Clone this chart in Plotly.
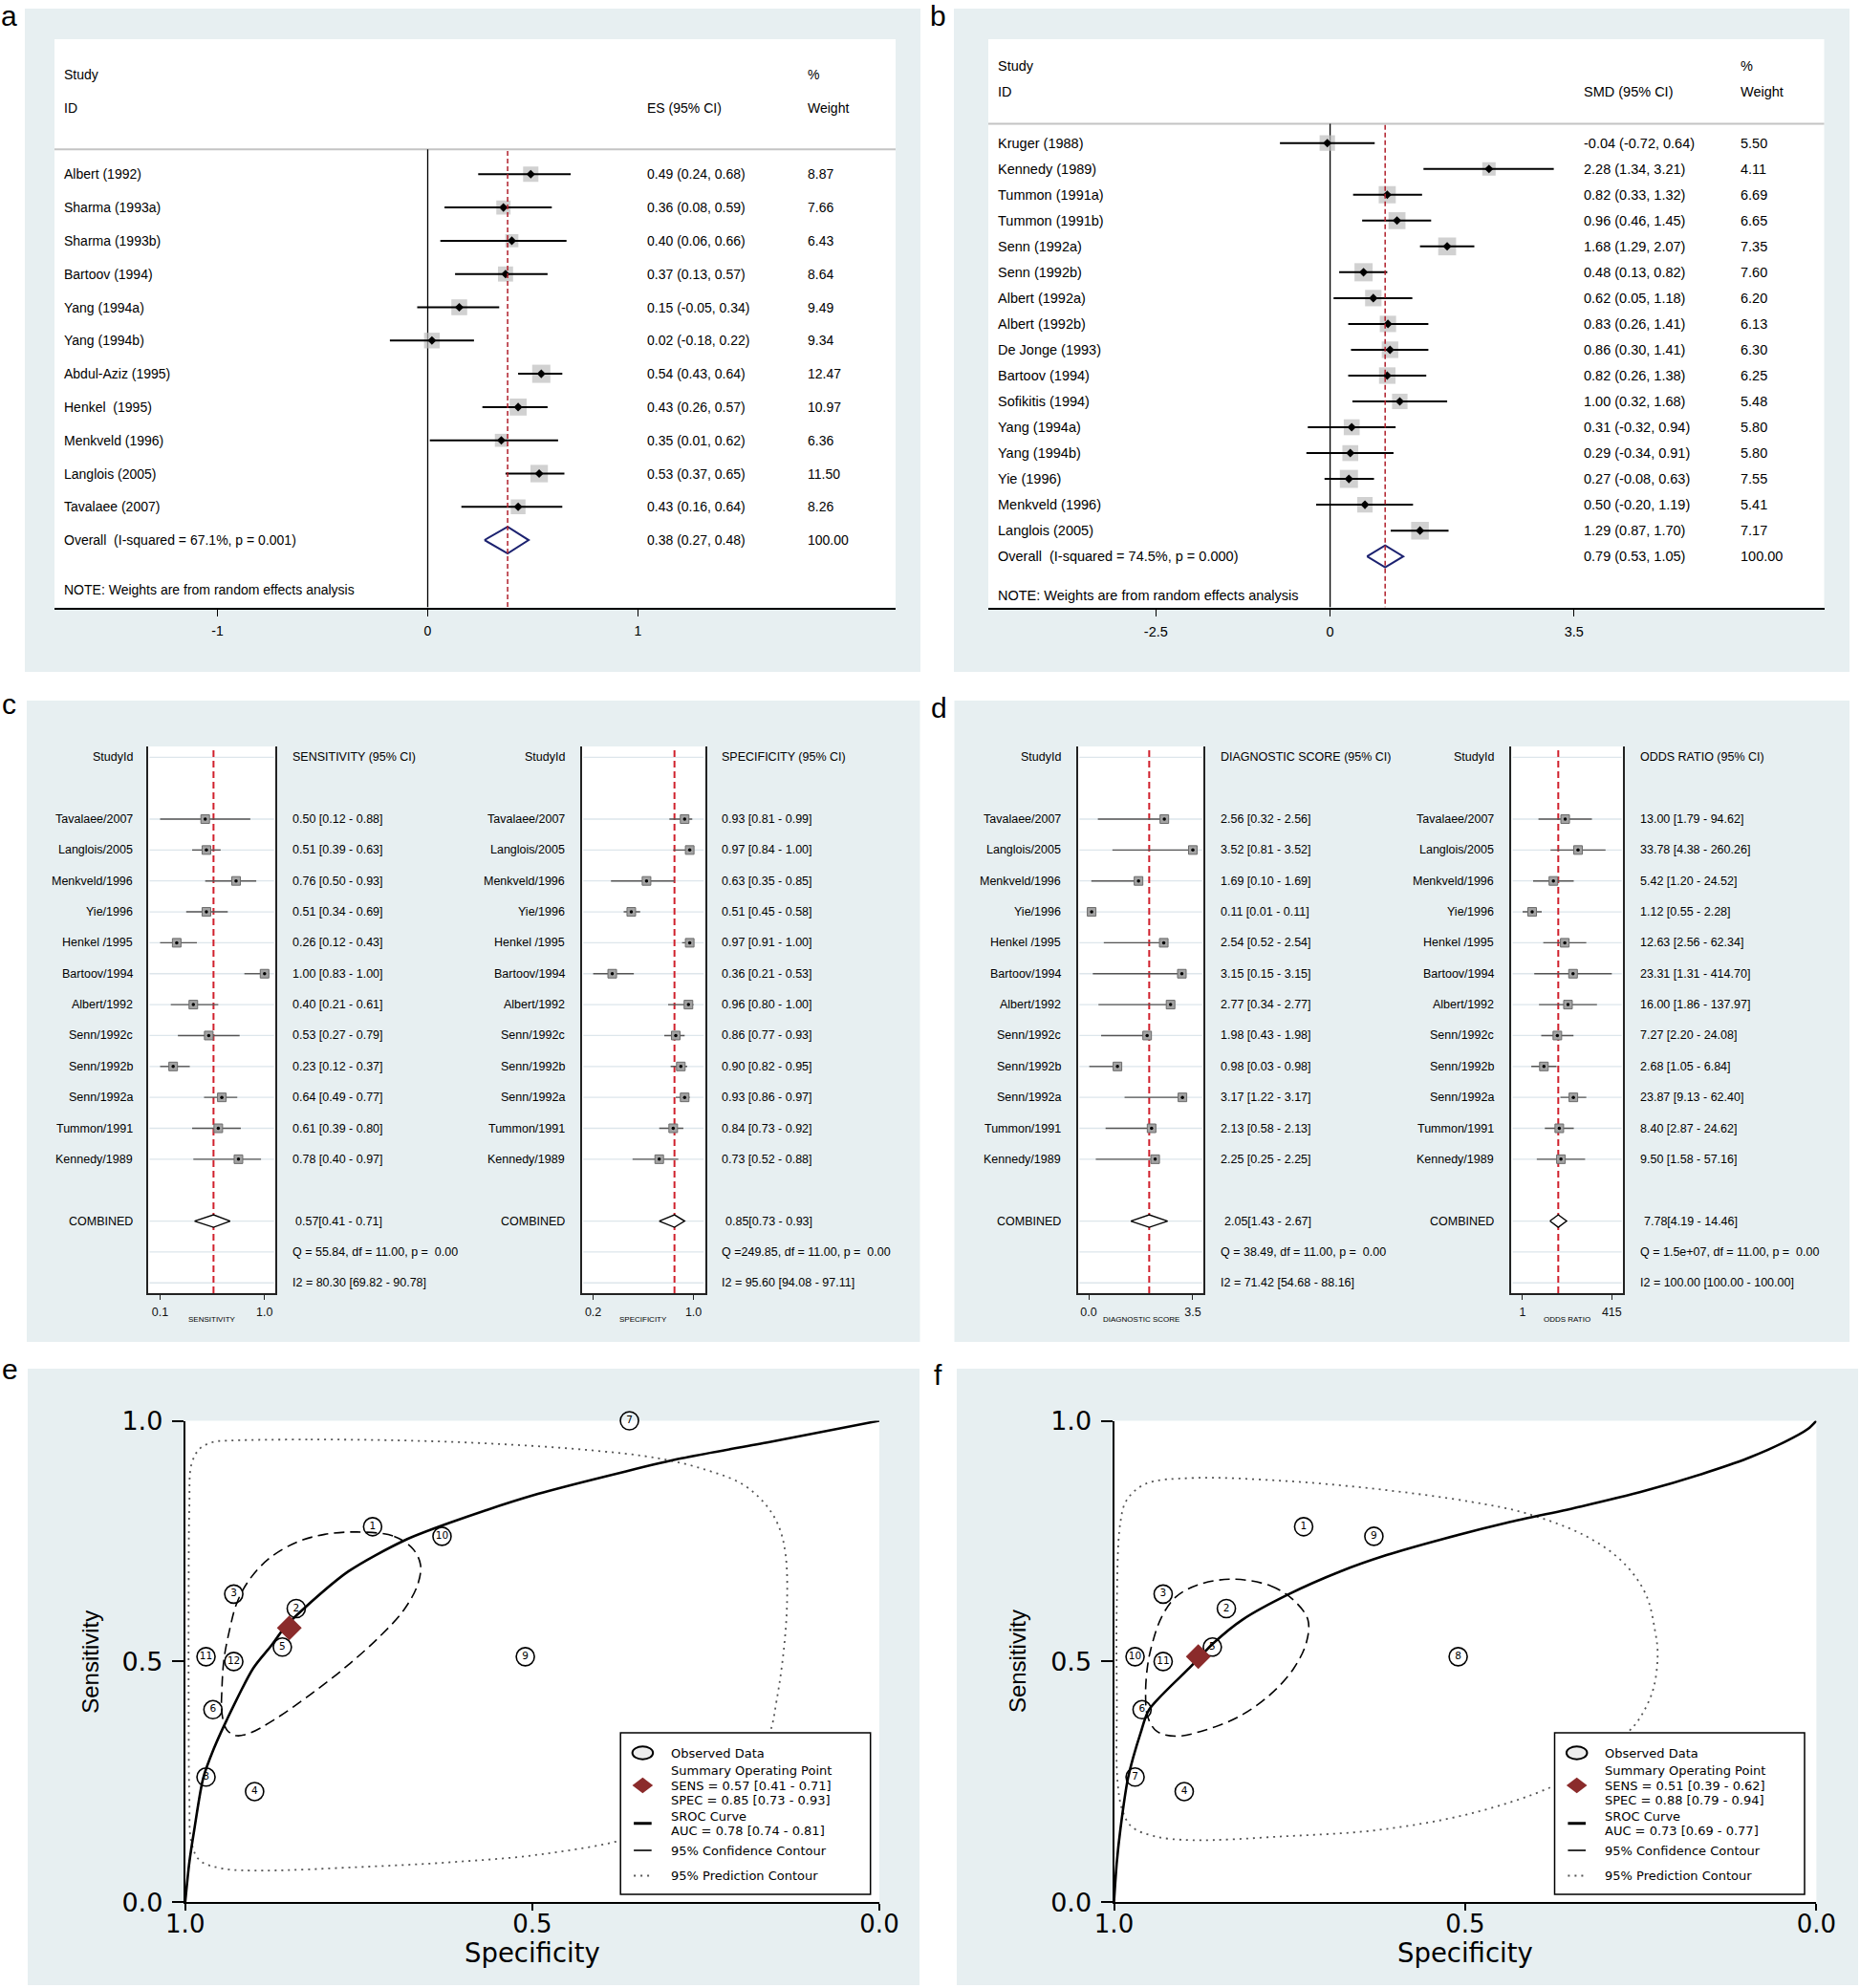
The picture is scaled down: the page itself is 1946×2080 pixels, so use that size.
import numpy as np
import plotly.graph_objects as go

W, H = 1946, 2080
FONT = "Liberation Sans, Arial, Helvetica, sans-serif"
WIDE = "DejaVu Sans, Verdana, sans-serif"
BG = "#E7EFF1"

# ---------------- DATA ----------------
# panel a
a_names = ["Albert (1992)", "Sharma (1993a)", "Sharma (1993b)", "Bartoov (1994)", "Yang (1994a)",
           "Yang (1994b)", "Abdul-Aziz (1995)", "Henkel  (1995)", "Menkveld (1996)", "Langlois (2005)",
           "Tavalaee (2007)"]
a_es = [0.49, 0.36, 0.40, 0.37, 0.15, 0.02, 0.54, 0.43, 0.35, 0.53, 0.43]
a_lo = [0.24, 0.08, 0.06, 0.13, -0.05, -0.18, 0.43, 0.26, 0.01, 0.37, 0.16]
a_hi = [0.68, 0.59, 0.66, 0.57, 0.34, 0.22, 0.64, 0.57, 0.62, 0.65, 0.64]
a_w = [8.87, 7.66, 6.43, 8.64, 9.49, 9.34, 12.47, 10.97, 6.36, 11.50, 8.26]
a_overall = [0.38, 0.27, 0.48]
a_overall_weight = 100.00
a_overall_label = "Overall  (I-squared = 67.1%, p = 0.001)"
a_ticks = [-1, 0, 1]
a_ticktext = ["-1", "0", "1"]

# panel b
b_names = ["Kruger (1988)", "Kennedy (1989)", "Tummon (1991a)", "Tummon (1991b)", "Senn (1992a)",
           "Senn (1992b)", "Albert (1992a)", "Albert (1992b)", "De Jonge (1993)", "Bartoov (1994)",
           "Sofikitis (1994)", "Yang (1994a)", "Yang (1994b)", "Yie (1996)", "Menkveld (1996)",
           "Langlois (2005)"]
b_smd = [-0.04, 2.28, 0.82, 0.96, 1.68, 0.48, 0.62, 0.83, 0.86, 0.82, 1.00, 0.31, 0.29, 0.27, 0.50, 1.29]
b_lo = [-0.72, 1.34, 0.33, 0.46, 1.29, 0.13, 0.05, 0.26, 0.30, 0.26, 0.32, -0.32, -0.34, -0.08, -0.20, 0.87]
b_hi = [0.64, 3.21, 1.32, 1.45, 2.07, 0.82, 1.18, 1.41, 1.41, 1.38, 1.68, 0.94, 0.91, 0.63, 1.19, 1.70]
b_w = [5.50, 4.11, 6.69, 6.65, 7.35, 7.60, 6.20, 6.13, 6.30, 6.25, 5.48, 5.80, 5.80, 7.55, 5.41, 7.17]
b_overall = [0.79, 0.53, 1.05]
b_overall_weight = 100.00
b_overall_label = "Overall  (I-squared = 74.5%, p = 0.000)"
b_ticks = [-2.5, 0, 3.5]
b_ticktext = ["-2.5", "0", "3.5"]

# panels c, d (same study order)
cd_ids = ["Tavalaee/2007", "Langlois/2005", "Menkveld/1996", "Yie/1996", "Henkel /1995", "Bartoov/1994",
          "Albert/1992", "Senn/1992c", "Senn/1992b", "Senn/1992a", "Tummon/1991", "Kennedy/1989"]
sens = [0.50, 0.51, 0.76, 0.51, 0.26, 1.00, 0.40, 0.53, 0.23, 0.64, 0.61, 0.78]
sens_lo = [0.12, 0.39, 0.50, 0.34, 0.12, 0.83, 0.21, 0.27, 0.12, 0.49, 0.39, 0.40]
sens_hi = [0.88, 0.63, 0.93, 0.69, 0.43, 1.00, 0.61, 0.79, 0.37, 0.77, 0.80, 0.97]
spec = [0.93, 0.97, 0.63, 0.51, 0.97, 0.36, 0.96, 0.86, 0.90, 0.93, 0.84, 0.73]
spec_lo = [0.81, 0.84, 0.35, 0.45, 0.91, 0.21, 0.80, 0.77, 0.82, 0.86, 0.73, 0.52]
spec_hi = [0.99, 1.00, 0.85, 0.58, 1.00, 0.53, 1.00, 0.93, 0.95, 0.97, 0.92, 0.88]
dscore = [2.56, 3.52, 1.69, 0.11, 2.54, 3.15, 2.77, 1.98, 0.98, 3.17, 2.13, 2.25]
dscore_lo = [0.32, 0.81, 0.10, 0.01, 0.52, 0.15, 0.34, 0.43, 0.03, 1.22, 0.58, 0.25]
dscore_hi = [2.56, 3.52, 1.69, 0.11, 2.54, 3.15, 2.77, 1.98, 0.98, 3.17, 2.13, 2.25]
odds = [13.00, 33.78, 5.42, 1.12, 12.63, 23.31, 16.00, 7.27, 2.68, 23.87, 8.40, 9.50]
odds_lo = [1.79, 4.38, 1.20, 0.55, 2.56, 1.31, 1.86, 2.20, 1.05, 9.13, 2.87, 1.58]
odds_hi = [94.62, 260.26, 24.52, 2.28, 62.34, 414.70, 137.97, 24.08, 6.84, 62.40, 24.62, 57.16]
sens_comb = [0.57, 0.41, 0.71]
spec_comb = [0.85, 0.73, 0.93]
dscore_comb = [2.05, 1.43, 2.67]
odds_comb = [7.78, 4.19, 14.46]
sens_stats = ["Q = 55.84, df = 11.00, p =  0.00", "I2 = 80.30 [69.82 - 90.78]"]
spec_stats = ["Q =249.85, df = 11.00, p =  0.00", "I2 = 95.60 [94.08 - 97.11]"]
dscore_stats = ["Q = 38.49, df = 11.00, p =  0.00", "I2 = 71.42 [54.68 - 88.16]"]
odds_stats = ["Q = 1.5e+07, df = 11.00, p =  0.00", "I2 = 100.00 [100.00 - 100.00]"]
sens_ticktext = ["0.1", "1.0"]
spec_ticktext = ["0.2", "1.0"]
dscore_ticktext = ["0.0", "3.5"]
odds_ticktext = ["1", "415"]

# panel e (all 12 studies), panel f (Bartoov excluded)
e_summary = [0.85, 0.57]
f_summary = [0.88, 0.51]
e_legend = ["Summary Operating Point", "SENS = 0.57 [0.41 - 0.71]", "SPEC = 0.85 [0.73 - 0.93]",
            "SROC Curve", "AUC = 0.78 [0.74 - 0.81]"]
f_legend = ["Summary Operating Point", "SENS = 0.51 [0.39 - 0.62]", "SPEC = 0.88 [0.79 - 0.94]",
            "SROC Curve", "AUC = 0.73 [0.69 - 0.77]"]
sroc_ticks = [0, 0.5, 1]
sroc_ticktext = ["0.0", "0.5", "1.0"]

sroc_e_spec = [1.0, 0.994, 0.987, 0.974, 0.959, 0.940, 0.902, 0.876, 0.856, 0.829, 0.765, 0.685, 0.619,
               0.492, 0.365, 0.285, 0.158, 0.0]
sroc_e_sens = [0.0, 0.083, 0.150, 0.258, 0.318, 0.379, 0.486, 0.533, 0.572, 0.610, 0.687, 0.751, 0.788,
               0.848, 0.895, 0.922, 0.956, 1.0]
conf_e_spec = [0.752, 0.699, 0.672, 0.661, 0.665, 0.685, 0.719, 0.765, 0.819, 0.872, 0.906, 0.926, 0.940,
               0.947, 0.947, 0.944, 0.936, 0.926, 0.909, 0.879, 0.839, 0.799, 0.752]
conf_e_sens = [0.769, 0.760, 0.734, 0.701, 0.660, 0.607, 0.553, 0.493, 0.432, 0.379, 0.352, 0.346, 0.358,
               0.392, 0.446, 0.506, 0.566, 0.620, 0.667, 0.714, 0.748, 0.764, 0.769]
pred_e_spec = [0.932, 0.819, 0.685, 0.552, 0.418, 0.318, 0.252, 0.198, 0.165, 0.145, 0.135, 0.133, 0.138,
               0.148, 0.158, 0.185, 0.252, 0.352, 0.485, 0.619, 0.752, 0.886, 0.946, 0.979, 0.991, 0.994,
               0.995, 0.995, 0.994, 0.991, 0.979, 0.959, 0.932]
pred_e_sens = [0.959, 0.961, 0.959, 0.952, 0.939, 0.922, 0.899, 0.869, 0.828, 0.781, 0.721, 0.620, 0.520,
               0.419, 0.352, 0.285, 0.204, 0.137, 0.100, 0.083, 0.073, 0.066, 0.070, 0.087, 0.124, 0.217,
               0.419, 0.620, 0.822, 0.909, 0.942, 0.956, 0.959]
sroc_f_spec = [1.0, 0.996, 0.991, 0.980, 0.962, 0.950, 0.893, 0.879, 0.860, 0.817, 0.751, 0.678, 0.612,
               0.533, 0.441, 0.335, 0.243, 0.164, 0.098, 0.045, 0.012, 0.0]
sroc_f_sens = [0.0, 0.083, 0.150, 0.258, 0.352, 0.400, 0.486, 0.507, 0.536, 0.587, 0.640, 0.687, 0.721,
               0.754, 0.788, 0.822, 0.855, 0.889, 0.922, 0.956, 0.983, 1.0]
conf_f_spec = [0.830, 0.777, 0.744, 0.724, 0.726, 0.744, 0.777, 0.823, 0.876, 0.912, 0.939, 0.952, 0.955,
               0.952, 0.945, 0.932, 0.912, 0.879, 0.830]
conf_f_sens = [0.671, 0.657, 0.627, 0.587, 0.540, 0.486, 0.432, 0.385, 0.355, 0.345, 0.355, 0.385, 0.432,
               0.493, 0.540, 0.593, 0.634, 0.660, 0.671]
pred_f_spec = [0.955, 0.889, 0.757, 0.625, 0.493, 0.414, 0.329, 0.276, 0.243, 0.230, 0.226, 0.233, 0.253,
               0.269, 0.309, 0.375, 0.493, 0.625, 0.757, 0.889, 0.942, 0.975, 0.988, 0.995, 0.996, 0.996,
               0.991, 0.982, 0.955]
pred_f_sens = [0.869, 0.881, 0.875, 0.858, 0.832, 0.808, 0.761, 0.707, 0.640, 0.566, 0.513, 0.439, 0.379,
               0.352, 0.298, 0.241, 0.184, 0.150, 0.137, 0.129, 0.137, 0.157, 0.191, 0.251, 0.419, 0.620,
               0.788, 0.835, 0.869]

# ---------------- helpers ----------------
def px(x):
    return x / W


def py(y):
    return 1 - y / H


fig = go.Figure()
shapes, annotations, axes = [], [], {}


def refs(i):
    return ("x", "y") if i == 1 else (f"x{i}", f"y{i}")


def add_axes(i, dom_x, dom_y, xcfg, ycfg):
    xr, yr = refs(i)
    xk = "xaxis" if i == 1 else f"xaxis{i}"
    yk = "yaxis" if i == 1 else f"yaxis{i}"
    xa = dict(domain=[px(dom_x[0]), px(dom_x[1])], anchor=yr, showgrid=False, zeroline=False,
              automargin=False, fixedrange=True)
    xa.update(xcfg)
    ya = dict(domain=[py(dom_y[1]), py(dom_y[0])], anchor=xr, showgrid=False, zeroline=False,
              automargin=False, fixedrange=True)
    ya.update(ycfg)
    axes[xk] = xa
    axes[yk] = ya


def rect(x0, y0, x1, y1, fill, layer="below", lc=None, lw=0):
    shapes.append(dict(type="rect", xref="paper", yref="paper", x0=px(x0), x1=px(x1), y0=py(y1), y1=py(y0),
                       fillcolor=fill, line=dict(width=lw, color=lc or fill), layer=layer))


def ann(x, y, text, size, yref="paper", xanchor="left", yanchor="middle", family=FONT, color="black", angle=0):
    annotations.append(dict(x=px(x), xref="paper", y=(py(y) if yref == "paper" else y), yref=yref,
                            text=text, showarrow=False, xanchor=xanchor, yanchor=yanchor,
                            font=dict(size=size, family=family, color=color), textangle=angle,
                            borderpad=0, borderwidth=0))


def ci_xy(rows, lo, hi):
    xs, ys = [], []
    for r, l, h in zip(rows, lo, hi):
        xs += [l, h, None]
        ys += [r, r, None]
    return xs, ys


# ---------------- backgrounds ----------------
panels_bg = [(26, 9, 963, 703), (998, 9, 1935, 703), (28, 733, 962.5, 1404), (998.5, 733, 1935, 1404),
             (29, 1432, 962, 2077), (1001, 1432, 1944, 2077)]
for b in panels_bg:
    rect(*b, BG)

# panel letters
for (lx, ly, s, anc) in [(9, 0, "a", "top"), (981, 0, "b", "top"), (9, 737, "c", "middle"),
                         (982, 740, "d", "middle"), (10, 1432, "e", "middle"), (981, 1438, "f", "middle")]:
    ann(lx, ly, s, 30, xanchor="center", yanchor=anc)


# ---------------- big forest plots (a, b) ----------------
def big_forest(i, names, es, lo, hi, w, ov, ov_w, ov_label, est_hdr, dom_x, dom_y, zero_px, ppu, r1_px, step,
               cols, tickvals, ticktext, fsize, dia_half_px):
    xr, yr = refs(i)
    rect(dom_x[0], dom_y[0], dom_x[1], dom_y[1], "white")
    xrange = [(dom_x[0] - zero_px) / ppu, (dom_x[1] - zero_px) / ppu]

    def rowp(p):
        return 1 + (p - r1_px) / step

    r_bot, r_top = rowp(dom_y[1]), rowp(dom_y[0])
    add_axes(i, dom_x, dom_y,
             dict(range=xrange, showline=True, linecolor="black", linewidth=1.5, ticks="outside", ticklen=8,
                  tickwidth=1.3, tickcolor="black", tickvals=tickvals, ticktext=ticktext,
                  tickfont=dict(size=fsize, family=FONT, color="black"), ticklabelstandoff=3),
             dict(range=[r_bot, r_top], visible=False))
    n = len(names)
    rows = list(range(1, n + 1))
    # reference lines
    shapes.append(dict(type="line", xref=f"{xr} domain", yref=yr, x0=0, x1=1, y0=0.25, y1=0.25,
                       line=dict(color="#C4C4C4", width=2), layer="below"))
    shapes.append(dict(type="line", xref=xr, yref=yr, x0=0, x1=0, y0=0.25, y1=r_bot,
                       line=dict(color="black", width=1.3), layer="below"))
    shapes.append(dict(type="line", xref=xr, yref=yr, x0=ov[0], x1=ov[0], y0=0.3, y1=r_bot,
                       line=dict(color="#B01E2A", width=1.5, dash="5px,3px"), layer="above"))
    wmax = max(w)
    fig.add_trace(go.Scatter(x=es, y=rows, mode="markers", xaxis=xr, yaxis=yr,
                             marker=dict(symbol="square", size=[19 * np.sqrt(v / wmax) for v in w],
                                         color="#BEBEBE", line=dict(width=0)), hoverinfo="skip"))
    cx, cy = ci_xy(rows, lo, hi)
    fig.add_trace(go.Scatter(x=cx, y=cy, mode="lines", xaxis=xr, yaxis=yr,
                             line=dict(color="black", width=2), hoverinfo="skip"))
    fig.add_trace(go.Scatter(x=es, y=rows, mode="markers", xaxis=xr, yaxis=yr,
                             marker=dict(symbol="diamond", size=7, color="black"), hoverinfo="skip"))
    R = n + 1
    hh = dia_half_px / step
    fig.add_trace(go.Scatter(x=[ov[1], ov[0], ov[2], ov[0], ov[1]], y=[R, R - hh, R, R + hh, R],
                             mode="lines", xaxis=xr, yaxis=yr, line=dict(color="#1C2270", width=2),
                             hoverinfo="skip"))
    c_name, c_est, c_w = cols
    ann(c_name, -2, "Study", fsize, yref=yr)
    ann(c_name, -1, "ID", fsize, yref=yr)
    ann(c_est, -1, est_hdr, fsize, yref=yr)
    ann(c_w, -2, "%", fsize, yref=yr)
    ann(c_w, -1, "Weight", fsize, yref=yr)
    for r, nm, e, l, h, wt in zip(rows, names, es, lo, hi, w):
        ann(c_name, r, nm, fsize, yref=yr)
        ann(c_est, r, f"{e:.2f} ({l:.2f}, {h:.2f})", fsize, yref=yr)
        ann(c_w, r, f"{wt:.2f}", fsize, yref=yr)
    ann(c_name, R, ov_label, fsize, yref=yr)
    ann(c_est, R, f"{ov[0]:.2f} ({ov[1]:.2f}, {ov[2]:.2f})", fsize, yref=yr)
    ann(c_w, R, f"{ov_w:.2f}", fsize, yref=yr)
    ann(c_name, R + 1.5, "NOTE: Weights are from random effects analysis", fsize, yref=yr)


big_forest(1, a_names, a_es, a_lo, a_hi, a_w, a_overall, a_overall_weight, a_overall_label, "ES (95% CI)",
           (57, 937), (41, 635.5), 447.5, 220.0, 182.3, 34.8, (67, 677, 844.5), a_ticks, a_ticktext, 14, 14)
big_forest(2, b_names, b_smd, b_lo, b_hi, b_w, b_overall, b_overall_weight, b_overall_label, "SMD (95% CI)",
           (1034, 1908.5), (41, 635.5), 1391.6, 72.9, 149.7, 27.03, (1044, 1657, 1821), b_ticks, b_ticktext,
           14.5, 11.5)

# ---------------- small forest plots (c, d) ----------------
CD_R1, CD_STEP = 857.0, 32.35
CD_TOP, CD_BOT = 781.0, 1353.0


def cd_row(p):
    return 1 + (p - CD_R1) / CD_STEP


def small_forest(i, box, vmap, log, v, lo, hi, comb, header, stats, label_x, text_x, ticktext, title):
    xr, yr = refs(i)
    b0, b1 = box
    rect(b0, CD_TOP, b1, CD_BOT, "white")
    aval, apx, ppu = vmap
    base = np.log10(aval) if log else aval
    rng = [base + (b0 - apx) / ppu, base + (b1 - apx) / ppu]
    tickvals = [min(lo), max(hi)]
    add_axes(i, box, (CD_TOP, CD_BOT),
             dict(type="log" if log else "linear", range=rng, showline=True, linecolor="#222", linewidth=1.5,
                  ticks="outside", ticklen=5, tickwidth=1, tickcolor="#222", tickvals=tickvals,
                  ticktext=ticktext, tickfont=dict(size=12.5, family=FONT, color="#111"),
                  ticklabelstandoff=2),
             dict(range=[cd_row(CD_BOT), cd_row(CD_TOP)], showline=True, mirror=True, linecolor="#222",
                  linewidth=1.5, ticks="", showticklabels=False))
    n = len(v)
    rows = list(range(1, n + 1))
    for r in [-1] + rows + [n + 2, n + 3, n + 4]:
        shapes.append(dict(type="line", xref=f"{xr} domain", yref=yr, x0=0.01, x1=0.99, y0=r, y1=r,
                           line=dict(color="#DDE6EB", width=1.3), layer="below"))
    shapes.append(dict(type="line", xref=xr, yref=f"{yr} domain", x0=comb[0], x1=comb[0], y0=0, y1=1,
                       line=dict(color="#D0202C", width=2, dash="7px,4px"), layer="below"))
    cx, cy = ci_xy(rows, lo, hi)
    fig.add_trace(go.Scatter(x=cx, y=cy, mode="lines", xaxis=xr, yaxis=yr,
                             line=dict(color="#555555", width=1.4), hoverinfo="skip"))
    fig.add_trace(go.Scatter(x=v, y=rows, mode="markers", xaxis=xr, yaxis=yr,
                             marker=dict(symbol="square", size=9, color="#A3A3A3",
                                         line=dict(color="#6A6A6A", width=1)), hoverinfo="skip"))
    fig.add_trace(go.Scatter(x=v, y=rows, mode="markers", xaxis=xr, yaxis=yr,
                             marker=dict(symbol="circle", size=3.5, color="black"), hoverinfo="skip"))
    R = n + 2
    hh = 6.5 / CD_STEP
    fig.add_trace(go.Scatter(x=[comb[1], comb[0], comb[2], comb[0], comb[1]], y=[R, R - hh, R, R + hh, R],
                             mode="lines", fill="toself", fillcolor="white", xaxis=xr, yaxis=yr,
                             line=dict(color="black", width=1.4), hoverinfo="skip"))
    fs = 12.5
    ann(label_x, -1, "StudyId", fs, yref=yr, xanchor="right")
    ann(text_x, -1, header, fs, yref=yr)
    for r, nm, a, l, h in zip(rows, cd_ids, v, lo, hi):
        ann(label_x, r, nm, fs, yref=yr, xanchor="right")
        ann(text_x, r, f"{a:.2f} [{l:.2f} - {h:.2f}]", fs, yref=yr)
    ann(label_x, R, "COMBINED", fs, yref=yr, xanchor="right")
    ann(text_x + 3.5, R, f"{comb[0]:.2f}[{comb[1]:.2f} - {comb[2]:.2f}]", fs, yref=yr)
    ann(text_x, R + 1, stats[0], fs, yref=yr)
    ann(text_x, R + 2, stats[1], fs, yref=yr)
    ann((b0 + b1) / 2, 1380, title, 8, xanchor="center")


small_forest(3, (155, 288), (0.12, 167.5, 124.2), False, sens, sens_lo, sens_hi, sens_comb,
             "SENSITIVITY (95% CI)", sens_stats, 138.75, 305.6, sens_ticktext, "SENSITIVITY")
small_forest(4, (609, 737.5), (0.21, 620.6, 132.9), False, spec, spec_lo, spec_hi, spec_comb,
             "SPECIFICITY (95% CI)", spec_stats, 591, 755, spec_ticktext, "SPECIFICITY")
small_forest(5, (1127.9, 1259.1), (0.01, 1139.0, 31.05), False, dscore, dscore_lo, dscore_hi, dscore_comb,
             "DIAGNOSTIC SCORE (95% CI)", dscore_stats, 1110, 1277, dscore_ticktext, "DIAGNOSTIC SCORE")
small_forest(6, (1581.4, 1697.8), (1.0, 1601.4, 32.443), True, odds, odds_lo, odds_hi, odds_comb,
             "ODDS RATIO (95% CI)", odds_stats, 1562.9, 1716.3, odds_ticktext, "ODDS RATIO")

# ---------------- SROC plots (e, f) ----------------
SR_TOP, SR_BOT = 1486.5, 1990.3


def sroc_panel(i, dom_x, sp, se, nums, summ, curve, conf, pred, leg_x0, leg_txt, ytitle_x):
    xr, yr = refs(i)
    rect(dom_x[0], SR_TOP, dom_x[1], SR_BOT, "white")
    add_axes(i, dom_x, (SR_TOP, SR_BOT),
             dict(range=[1, 0], showline=True, linecolor="black", linewidth=2, ticks="outside", ticklen=7,
                  tickwidth=2, tickcolor="black", tickvals=sroc_ticks, ticktext=sroc_ticktext,
                  tickfont=dict(size=26, family=WIDE, color="black"), ticklabelstandoff=-9),
             dict(range=[0, 1], showline=True, linecolor="black", linewidth=2, ticks="outside", ticklen=12,
                  tickwidth=2, tickcolor="black", tickvals=sroc_ticks, ticktext=sroc_ticktext,
                  tickfont=dict(size=27, family=WIDE, color="black"), ticklabelstandoff=4))
    fig.add_trace(go.Scatter(x=pred[0], y=pred[1], mode="lines", xaxis=xr, yaxis=yr,
                             line=dict(color="#555555", width=1.8, dash="2px,5px", shape="spline",
                                       smoothing=1.0), hoverinfo="skip"))
    fig.add_trace(go.Scatter(x=conf[0], y=conf[1], mode="lines", xaxis=xr, yaxis=yr,
                             line=dict(color="black", width=1.6, dash="11px,6px", shape="spline",
                                       smoothing=1.0), hoverinfo="skip"))
    fig.add_trace(go.Scatter(x=curve[0], y=curve[1], mode="lines", xaxis=xr, yaxis=yr,
                             line=dict(color="black", width=2.6, shape="spline", smoothing=0.8),
                             hoverinfo="skip"))
    fig.add_trace(go.Scatter(x=sp, y=se, mode="markers+text", text=[str(k) for k in nums],
                             textposition="middle center", xaxis=xr, yaxis=yr, cliponaxis=False,
                             textfont=dict(size=10.5, family=WIDE, color="black"),
                             marker=dict(symbol="circle", size=19, color="rgba(255,255,255,0)",
                                         line=dict(color="black", width=1.6)), hoverinfo="skip"))
    fig.add_trace(go.Scatter(x=[summ[0]], y=[summ[1]], mode="markers", xaxis=xr, yaxis=yr,
                             marker=dict(symbol="diamond", size=20, color="#8B2B2B",
                                         line=dict(width=0)), hoverinfo="skip"))
    ann((dom_x[0] + dom_x[1]) / 2, 2043, "Specificity", 27.5, xanchor="center", family=WIDE)
    ann(ytitle_x, (SR_TOP + SR_BOT) / 2, "Sensitivity", 24, xanchor="center", angle=-90)
    # legend box
    lx0, lx1, ly0, ly1 = leg_x0, leg_x0 + 261.5, 1813, 1982
    rect(lx0, ly0, lx1, ly1, "white", layer="above", lc="black", lw=1.5)
    cx = lx0 + 23.2
    y_obs, y_sum, y_sens, y_spec = 1834, 1852.5, 1868, 1883.5
    y_sroc, y_auc, y_conf, y_pred = 1900, 1915.5, 1936, 1962.5
    shapes.append(dict(type="circle", xref="paper", yref="paper", x0=px(cx - 10.8), x1=px(cx + 10.8),
                       y0=py(y_obs + 6.7), y1=py(y_obs - 6.7), fillcolor="#EEEEEE",
                       line=dict(color="black", width=2), layer="above"))
    dy = y_sens
    shapes.append(dict(type="path", xref="paper", yref="paper",
                       path=f"M {px(cx - 10.8)},{py(dy)} L {px(cx)},{py(dy - 8.2)} L {px(cx + 10.8)},{py(dy)} "
                            f"L {px(cx)},{py(dy + 8.2)} Z",
                       fillcolor="#8B2B2B", line=dict(width=0), layer="above"))
    for (yy, wd, ds, col) in [((y_sroc + y_auc) / 2, 3, "solid", "black"), (y_conf, 1.6, "solid", "black"),
                              (y_pred, 1.8, "2px,5px", "#555555")]:
        shapes.append(dict(type="line", xref="paper", yref="paper", x0=px(cx - 9.3), x1=px(cx + 9.3),
                           y0=py(yy), y1=py(yy), line=dict(color=col, width=wd, dash=ds), layer="above"))
    tx = lx0 + 52.6
    fs = 13
    ann(tx, y_obs, "Observed Data", fs, family=WIDE)
    ann(tx, y_sum, leg_txt[0], fs, family=WIDE)
    ann(tx, y_sens, leg_txt[1], fs, family=WIDE)
    ann(tx, y_spec, leg_txt[2], fs, family=WIDE)
    ann(tx, y_sroc, leg_txt[3], fs, family=WIDE)
    ann(tx, y_auc, leg_txt[4], fs, family=WIDE)
    ann(tx, y_conf, "95% Confidence Contour", fs, family=WIDE)
    ann(tx, y_pred, "95% Prediction Contour", fs, family=WIDE)


n_all = len(cd_ids)
e_nums = [n_all - k for k in range(n_all)]
keep_f = [k for k, nm in enumerate(cd_ids) if not nm.startswith("Bartoov")]
f_spec = [spec[k] for k in keep_f]
f_sens = [sens[k] for k in keep_f]
f_nums = [len(keep_f) - j for j in range(len(keep_f))]

sroc_panel(7, (193.75, 920), spec, sens, e_nums, e_summary, (sroc_e_spec, sroc_e_sens),
           (conf_e_spec, conf_e_sens), (pred_e_spec, pred_e_sens), 649.2, e_legend, 94.4)
sroc_panel(8, (1165.5, 1900.4), f_spec, f_sens, f_nums, f_summary, (sroc_f_spec, sroc_f_sens),
           (conf_f_spec, conf_f_sens), (pred_f_spec, pred_f_sens), 1626.5, f_legend, 1064.7)

fig.update_traces(showlegend=False)
fig.update_layout(width=W, height=H, margin=dict(l=0, r=0, t=0, b=0, pad=0), autosize=False,
                  paper_bgcolor="white", plot_bgcolor="rgba(0,0,0,0)", showlegend=False,
                  shapes=shapes, annotations=annotations, font=dict(family=FONT, color="black"),
                  **axes)

fig.write_html("out.html", config={"displayModeBar": False},
               post_script="document.body.style.margin='0px'; document.body.style.overflow='hidden';")
